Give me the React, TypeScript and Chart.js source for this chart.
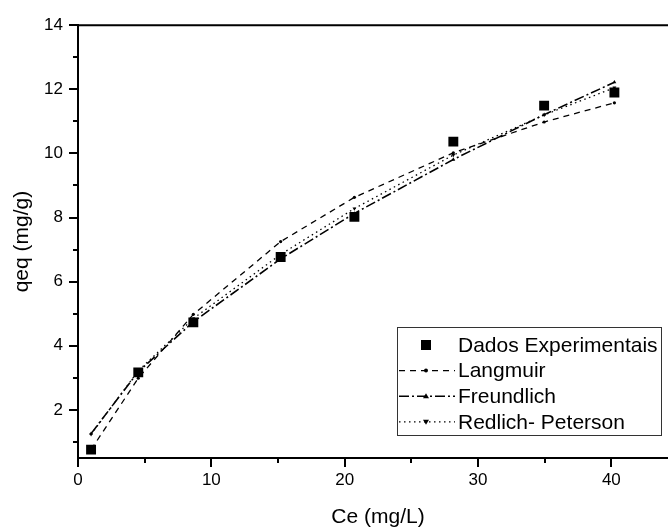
import React, { useEffect, useRef } from 'react';
import { Chart, registerables } from 'chart.js';

Chart.register(...registerables);

// Equilibrium concentration (mg/L) and adsorbed amount (mg/g)
const ce = [0.98, 4.52, 8.65, 15.2, 20.73, 28.15, 34.96, 40.23];
const qeqExperimental = [0.76, 3.17, 4.73, 6.77, 8.02, 10.37, 11.49, 11.9];

// Isotherm model fits at the same concentrations
const qeqLangmuir = [0.76, 2.99, 4.98, 7.25, 8.63, 10.02, 10.98, 11.58];
const qeqFreundlich = [1.26, 3.19, 4.75, 6.71, 8.13, 9.81, 11.21, 12.22];
const qeqRedlichPeterson = [1.24, 3.22, 4.85, 6.85, 8.28, 9.95, 11.2, 12.05];

const seriesNames = ['Dados Experimentais', 'Langmuir', 'Freundlich', 'Redlich- Peterson'];

// Axis ticks (every tick gets a mark, only the listed ones get a label)
const xTicks = [0, 5, 10, 15, 20, 25, 30, 35, 40, 45];
const xLabelled = [0, 10, 20, 30, 40];
const yTicks = [1, 2, 3, 4, 5, 6, 7, 8, 9, 10, 11, 12, 13, 14];
const yLabelled = [2, 4, 6, 8, 10, 12, 14];

const FONT = "Arial, 'Liberation Sans', sans-serif";

const toPoints = (ys: number[]) => ce.map((x, i) => ({ x, y: ys[i] }));

type LineStyle = { dash: number[]; width: number; marker: string; rotation: number; markerSize: number };

const lineStyles: LineStyle[] = [
  { dash: [6, 5], width: 1.3, marker: 'circle', rotation: 0, markerSize: 1.6 },
  { dash: [10, 3, 2, 3], width: 1.6, marker: 'triangle', rotation: 0, markerSize: 2.2 },
  { dash: [1.5, 3.5], width: 1.3, marker: 'triangle', rotation: 180, markerSize: 2.2 },
];

const axesAndLegend = {
  id: 'axesAndLegend',
  afterDraw(chart: any) {
    const { ctx, chartArea: a, scales } = chart;
    const x = scales.x;
    const y = scales.y;
    ctx.save();
    ctx.strokeStyle = '#000';
    ctx.lineWidth = 2;
    ctx.setLineDash([]);
    ctx.beginPath();
    // top and right frame
    ctx.moveTo(a.left - 1, a.top);
    ctx.lineTo(a.right + 1, a.top);
    ctx.moveTo(a.right, a.top);
    ctx.lineTo(a.right, a.bottom);
    // outward tick marks
    x.ticks.forEach((t: any) => {
      const px = Math.round(x.getPixelForValue(t.value));
      const len = xLabelled.includes(t.value) ? 9 : 5;
      ctx.moveTo(px, a.bottom);
      ctx.lineTo(px, a.bottom + len);
    });
    y.ticks.forEach((t: any) => {
      const py = Math.round(y.getPixelForValue(t.value));
      const len = yLabelled.includes(t.value) ? 9 : 5;
      ctx.moveTo(a.left, py);
      ctx.lineTo(a.left - len, py);
    });
    ctx.stroke();

    // legend box
    const bx = 397;
    const by = 327;
    const bw = 264;
    const bh = 108;
    ctx.fillStyle = '#fff';
    ctx.fillRect(bx, by, bw, bh);
    ctx.strokeStyle = '#333';
    ctx.lineWidth = 1;
    ctx.strokeRect(bx + 0.5, by + 0.5, bw, bh);

    const rowY = (i: number) => by + 18 + i * 25.6;
    const sampleX0 = bx + 2;
    const sampleX1 = bx + 58;
    const sampleMid = bx + 29;

    ctx.fillStyle = '#000';
    ctx.font = `21px ${FONT}`;
    ctx.textBaseline = 'middle';
    ctx.textAlign = 'left';
    seriesNames.forEach((name, i) => {
      const cy = rowY(i);
      if (i === 0) {
        ctx.fillRect(sampleMid - 5, cy - 5, 10, 10);
      } else {
        const s = lineStyles[i - 1];
        ctx.strokeStyle = '#000';
        ctx.lineWidth = s.width;
        ctx.setLineDash(s.dash);
        ctx.beginPath();
        ctx.moveTo(sampleX0, cy);
        ctx.lineTo(sampleX1, cy);
        ctx.stroke();
        ctx.setLineDash([]);
        ctx.beginPath();
        if (s.marker === 'circle') {
          ctx.arc(sampleMid, cy, 2, 0, Math.PI * 2);
        } else if (s.rotation === 0) {
          ctx.moveTo(sampleMid, cy - 3);
          ctx.lineTo(sampleMid + 3, cy + 2);
          ctx.lineTo(sampleMid - 3, cy + 2);
        } else {
          ctx.moveTo(sampleMid, cy + 3);
          ctx.lineTo(sampleMid + 3, cy - 2);
          ctx.lineTo(sampleMid - 3, cy - 2);
        }
        ctx.closePath();
        ctx.fill();
      }
      ctx.fillText(name, bx + 61, cy + 1);
    });
    ctx.restore();
  },
};

export default function App() {
  const canvasRef = useRef<HTMLCanvasElement | null>(null);

  useEffect(() => {
    const canvas = canvasRef.current;
    if (!canvas) return;

    const modelSeries = [qeqLangmuir, qeqFreundlich, qeqRedlichPeterson];

    const chart = new Chart(canvas, {
      type: 'scatter',
      data: {
        datasets: [
          {
            label: seriesNames[0],
            data: toPoints(qeqExperimental),
            pointStyle: 'rect',
            pointRadius: 7,
            backgroundColor: '#000',
            borderWidth: 0,
            showLine: false,
          },
          ...modelSeries.map((ys, i) => ({
            label: seriesNames[i + 1],
            data: toPoints(ys),
            showLine: true,
            borderColor: '#000',
            backgroundColor: '#000',
            borderWidth: lineStyles[i].width,
            borderDash: lineStyles[i].dash,
            pointStyle: lineStyles[i].marker,
            rotation: lineStyles[i].rotation,
            pointRadius: lineStyles[i].markerSize,
            pointBorderWidth: 0,
            tension: 0,
          })),
        ],
      },
      options: {
        responsive: false,
        animation: false,
        devicePixelRatio: 1,
        layout: { padding: { top: 15, right: 22, left: 0, bottom: 0 } },
        plugins: {
          legend: { display: false },
          tooltip: { enabled: false },
        },
        scales: {
          x: {
            type: 'linear',
            min: 0,
            max: 45,
            afterBuildTicks: (scale: any) => {
              scale.ticks = xTicks.map((v) => ({ value: v }));
            },
            afterFit: (scale: any) => {
              scale.height = 72;
            },
            grid: { display: true, drawOnChartArea: false, drawTicks: false },
            border: { display: true, color: '#000', width: 2 },
            ticks: {
              autoSkip: false,
              maxRotation: 0,
              padding: 12,
              color: '#000',
              font: { family: FONT, size: 17 },
              callback: (v: any) => (xLabelled.includes(Number(v)) ? String(v) : ''),
            },
            title: {
              display: true,
              text: 'Ce (mg/L)',
              color: '#000',
              font: { family: FONT, size: 21 },
              padding: { top: 0, bottom: 0 },
            },
          },
          y: {
            type: 'linear',
            min: 0.5,
            max: 14,
            afterBuildTicks: (scale: any) => {
              scale.ticks = yTicks.map((v) => ({ value: v }));
            },
            afterFit: (scale: any) => {
              scale.width = 78;
            },
            grid: { display: true, drawOnChartArea: false, drawTicks: false },
            border: { display: true, color: '#000', width: 2 },
            ticks: {
              autoSkip: false,
              padding: 15,
              color: '#000',
              font: { family: FONT, size: 17 },
              callback: (v: any) => (yLabelled.includes(Number(v)) ? String(v) : ''),
            },
            title: {
              display: true,
              text: 'qeq (mg/g)',
              color: '#000',
              font: { family: FONT, size: 21 },
              padding: { top: 10, bottom: 0 },
            },
          },
        },
      },
      plugins: [axesAndLegend],
    } as any);

    return () => chart.destroy();
  }, []);

  return (
    <div
      style={{
        position: 'fixed',
        left: 0,
        top: 0,
        width: 668,
        height: 530,
        overflow: 'hidden',
        background: '#fff',
      }}
    >
      <canvas ref={canvasRef} width={700} height={530} style={{ display: 'block', width: 700, height: 530 }} />
    </div>
  );
}
